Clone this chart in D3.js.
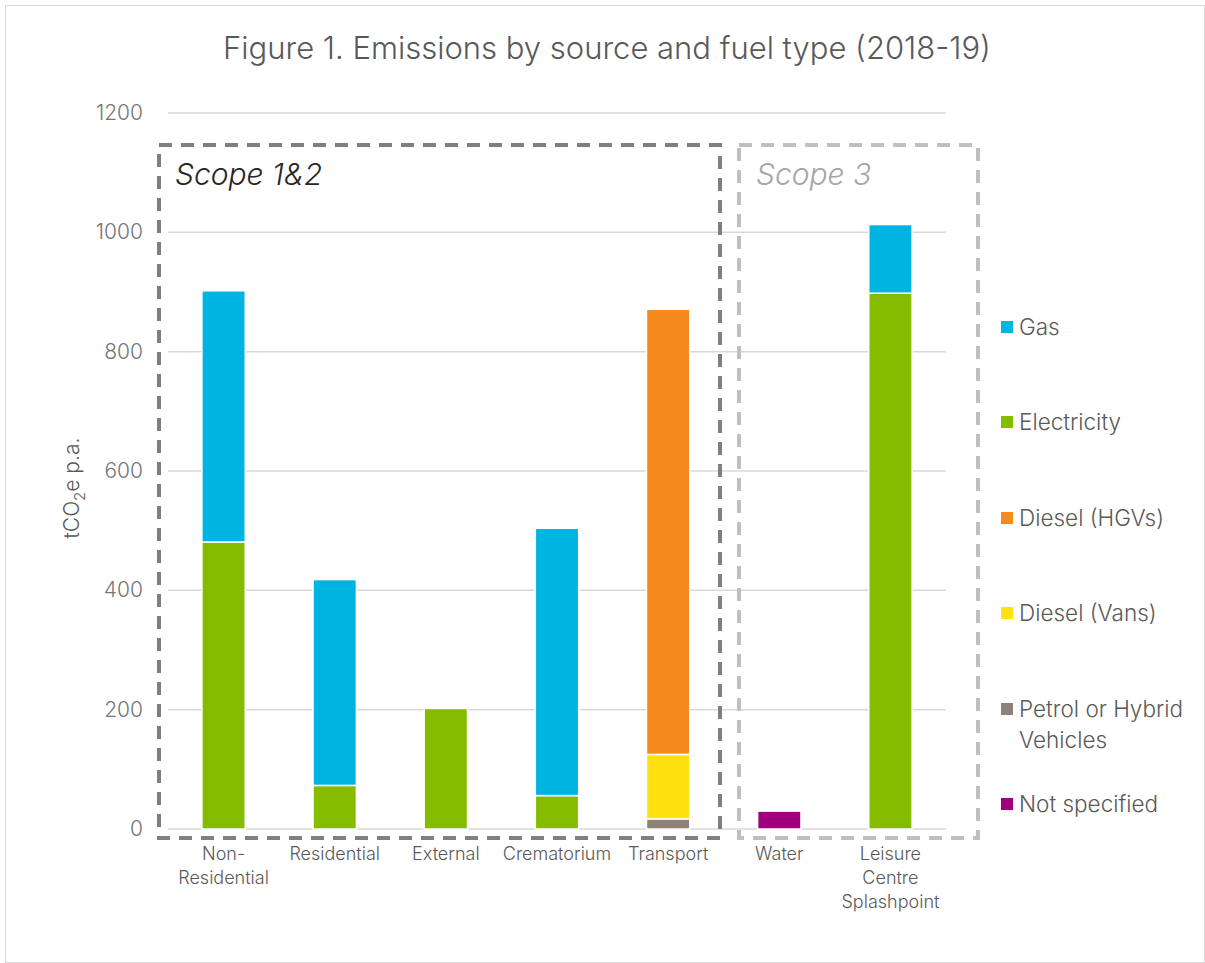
<!DOCTYPE html>
<html>
<head>
<meta charset="utf-8">
<script src="https://cdn.jsdelivr.net/npm/d3@7"></script>
<style>
  body { margin: 0; background: #fff; }
  text { font-family: Inter, Roboto, sans-serif; font-weight: 300; }
</style>
</head>
<body>
<div id="chart"></div>
<script>
// data (tCO2e p.a.)
var categories = ['Non-Residential', 'Residential', 'External', 'Crematorium', 'Transport', 'Water', 'Leisure Centre Splashpoint'];
var catLines = [['Non-', 'Residential'], ['Residential'], ['External'], ['Crematorium'], ['Transport'], ['Water'], ['Leisure', 'Centre', 'Splashpoint']];
var notSpecified = [0, 0, 0, 0, 0, 30, 0];
var petrolHybrid = [0, 0, 0, 0, 17, 0, 0];
var dieselVans   = [0, 0, 0, 0, 108, 0, 0];
var dieselHGVs   = [0, 0, 0, 0, 746, 0, 0];
var electricity  = [481, 73, 202, 56, 0, 0, 898];
var gas          = [421, 345, 0, 448, 0, 0, 115];
var yTicks = [0, 200, 400, 600, 800, 1000, 1200];

var seriesNames = ['Not specified', 'Petrol or Hybrid Vehicles', 'Diesel (Vans)', 'Diesel (HGVs)', 'Electricity', 'Gas'];
var seriesVals = [notSpecified, petrolHybrid, dieselVans, dieselHGVs, electricity, gas];
var colors = ['#A0007D', '#8C8279', '#FFE10F', '#F58A1F', '#85BC00', '#00B4E1'];

var W = 1205, H = 963;
var svg = d3.select('#chart').append('svg').attr('width', W).attr('height', H);

// outer border
svg.append('rect').attr('x', 5.5).attr('y', 5.5).attr('width', W - 6).attr('height', H - 6)
  .style('fill', 'none').style('stroke', '#d9d9d9').style('stroke-width', 1);

var x = d3.scaleBand().domain(categories).range([168, 946]).paddingInner(0.61).paddingOuter(0.305);
var y = d3.scaleLinear().domain([0, 1200]).range([829, 113]);

// gridlines
svg.append('g').selectAll('line').data(yTicks).enter().append('line')
  .attr('x1', 168).attr('x2', 946)
  .attr('y1', function(d) { return y(d); }).attr('y2', function(d) { return y(d); })
  .style('stroke', '#d9d9d9').style('stroke-width', 1.5);

// y tick labels
svg.append('g').selectAll('text').data(yTicks).enter().append('text')
  .attr('x', 143).attr('y', function(d) { return y(d) + 7; })
  .attr('text-anchor', 'end')
  .style('font-size', '21px').style('fill', '#767676')
  .text(function(d) { return d; });

// stacked bars
var rows = categories.map(function(c, i) {
  var r = { cat: c };
  seriesNames.forEach(function(s, j) { r[s] = seriesVals[j][i]; });
  return r;
});
var stack = d3.stack().keys(seriesNames)(rows);

svg.append('g').selectAll('g').data(stack).enter().append('g')
  .style('fill', function(d, i) { return colors[i]; })
  .selectAll('rect').data(function(d) { return d.filter(function(p) { return p[1] - p[0] > 0; }); })
  .enter().append('rect')
  .attr('x', function(d) { return x(d.data.cat); })
  .attr('width', x.bandwidth())
  .attr('y', function(d) { return y(d[1]); })
  .attr('height', function(d) { return y(d[0]) - y(d[1]); })
  .style('stroke', '#fff').style('stroke-width', 1.5);

// x labels
var xl = svg.append('g').selectAll('text').data(categories).enter().append('text')
  .attr('x', function(d) { return x(d) + x.bandwidth() / 2; })
  .attr('y', 860)
  .attr('text-anchor', 'middle')
  .style('font-size', '18px').style('fill', '#595959');
xl.each(function(d, i) {
  var t = d3.select(this);
  catLines[i].forEach(function(line, k) {
    t.append('tspan').attr('x', x(d) + x.bandwidth() / 2).attr('dy', k === 0 ? 0 : 24).text(line);
  });
});

// scope boxes
svg.append('rect').attr('x', 159).attr('y', 145).attr('width', 561).attr('height', 693)
  .style('fill', 'none').style('stroke', '#7f7f7f').style('stroke-width', 4)
  .style('stroke-dasharray', '13,9');
svg.append('rect').attr('x', 739).attr('y', 145).attr('width', 239).attr('height', 693)
  .style('fill', 'none').style('stroke', '#bfbfbf').style('stroke-width', 4)
  .style('stroke-dasharray', '13,9');

svg.append('text').attr('x', 175).attr('y', 185)
  .style('font-size', '30px').style('font-style', 'italic').style('fill', '#262626')
  .text('Scope 1&2');
svg.append('text').attr('x', 756).attr('y', 185)
  .style('font-size', '30px').style('font-style', 'italic').style('fill', '#a6a6a6')
  .text('Scope 3');

// title
svg.append('text').attr('x', 607).attr('y', 59).attr('text-anchor', 'middle')
  .style('font-size', '31px').style('fill', '#595959')
  .text('Figure 1. Emissions by source and fuel type (2018-19)');

// y axis title
var yt = svg.append('text').attr('transform', 'translate(79,488) rotate(-90)')
  .attr('text-anchor', 'middle')
  .style('font-size', '21px').style('fill', '#595959');
yt.append('tspan').text('tCO');
yt.append('tspan').attr('dy', 6).style('font-size', '15px').text('2');
yt.append('tspan').attr('dy', -6).text('e p.a.');

// legend (top to bottom, reverse of stack order)
var legendY = [327, 422, 518, 613, 709, 804];
var legendLines = [['Gas'], ['Electricity'], ['Diesel (HGVs)'], ['Diesel (Vans)'], ['Petrol or Hybrid', 'Vehicles'], ['Not specified']];
var legendCols = colors.slice().reverse();
var lg = svg.append('g').selectAll('g').data(legendLines).enter().append('g');
lg.append('rect')
  .attr('x', 1001).attr('y', function(d, i) { return legendY[i] - 6; })
  .attr('width', 12).attr('height', 12)
  .style('fill', function(d, i) { return legendCols[i]; });
lg.append('text')
  .attr('x', 1019).attr('y', function(d, i) { return legendY[i] + 8; })
  .style('font-size', '22.5px').style('fill', '#595959')
  .each(function(d) {
    var t = d3.select(this);
    d.forEach(function(line, k) {
      t.append('tspan').attr('x', 1019).attr('dy', k === 0 ? 0 : 31).text(line);
    });
  });
</script>
</body>
</html>
